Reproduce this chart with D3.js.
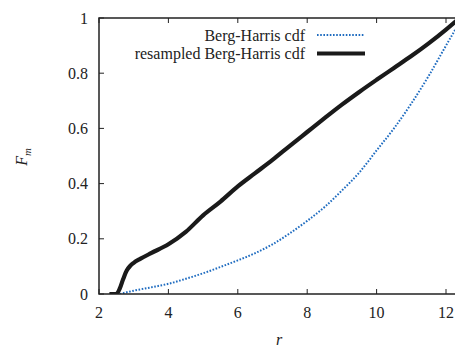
<!DOCTYPE html>
<html>
<head>
<meta charset="utf-8">
<script src="https://cdn.jsdelivr.net/npm/d3@7"></script>
<style>
  body { margin: 0; background: #fff; }
  text { font-family: "Liberation Serif", "DejaVu Serif", serif; fill: #222; }
</style>
</head>
<body>
<script>
// values
var rBH = [2.6, 3, 3.5, 4, 4.5, 5, 5.5, 6, 6.5, 7, 7.5, 8, 8.5, 9, 9.5, 10, 10.5, 11, 11.5, 12, 12.3];
var fBH = [0, 0.012, 0.024, 0.037, 0.055, 0.075, 0.098, 0.122, 0.148, 0.18, 0.22, 0.265, 0.315, 0.375, 0.44, 0.52, 0.6, 0.69, 0.79, 0.9, 0.965];

var rRes = [2.3, 2.5, 2.6, 2.7, 2.8, 2.9, 3, 3.2, 3.5, 4, 4.5, 5, 5.5, 6, 6.5, 7, 7.5, 8, 8.5, 9, 9.5, 10, 10.5, 11, 11.5, 12, 12.3];
var fRes = [0, 0, 0.02, 0.055, 0.085, 0.102, 0.113, 0.128, 0.148, 0.18, 0.225, 0.285, 0.335, 0.39, 0.438, 0.486, 0.537, 0.587, 0.637, 0.686, 0.732, 0.776, 0.819, 0.862, 0.908, 0.958, 0.99];

var xTicks = [2, 4, 6, 8, 10, 12];
var yTicks = [0, 0.2, 0.4, 0.6, 0.8, 1];
var yTickLabels = ['0', '0.2', '0.4', '0.6', '0.8', '1'];

var width = 455, height = 348;
// plot box; the right side runs past the picture edge
var pLeft = 99, pTop = 18, pBottom = 294, pRight = 455;

var x = d3.scaleLinear().domain([2, 12]).range([pLeft, 446]);
var y = d3.scaleLinear().domain([0, 1]).range([pBottom, pTop]);

var svg = d3.select('body').append('svg')
  .attr('width', width)
  .attr('height', height);

svg.append('clipPath').attr('id', 'clip')
  .append('rect').attr('x', pLeft).attr('y', pTop - 3)
  .attr('width', pRight - pLeft).attr('height', pBottom - pTop + 3);

var line = d3.line()
  .x(function(d) { return x(d[0]); })
  .y(function(d) { return y(d[1]); })
  .curve(d3.curveMonotoneX);

var g = svg.append('g').attr('clip-path', 'url(#clip)');

g.append('path')
  .datum(d3.zip(rBH, fBH))
  .attr('d', line)
  .attr('fill', 'none')
  .attr('stroke', '#1f6cc0')
  .attr('stroke-width', 2)
  .attr('stroke-dasharray', '1.6,1.6');

g.append('path')
  .datum(d3.zip(rRes, fRes))
  .attr('d', line)
  .attr('fill', 'none')
  .attr('stroke', '#1a1a1a')
  .attr('stroke-width', 4.2)
  .attr('stroke-linejoin', 'round');

svg.append('path')
  .attr('d', 'M' + pRight + ',' + pTop + 'H' + pLeft + 'V' + pBottom + 'H' + pRight)
  .attr('fill', 'none')
  .attr('stroke', '#222')
  .attr('stroke-width', 1.5);

// ticks, inward
svg.selectAll('.xt').data(xTicks).enter().append('path')
  .attr('d', function(d) { return 'M' + x(d) + ',' + pBottom + 'v-5M' + x(d) + ',' + pTop + 'v5'; })
  .attr('stroke', '#222').attr('stroke-width', 1);

svg.selectAll('.yt').data(yTicks).enter().append('path')
  .attr('d', function(d) { return 'M' + pLeft + ',' + y(d) + 'h5'; })
  .attr('stroke', '#222').attr('stroke-width', 1);

svg.selectAll('.xl').data(xTicks).enter().append('text')
  .attr('x', function(d) { return x(d); })
  .attr('y', 318)
  .attr('text-anchor', 'middle')
  .style('font-size', '16px')
  .text(function(d) { return d; });

svg.selectAll('.yl').data(yTicks).enter().append('text')
  .attr('x', 88)
  .attr('y', function(d) { return y(d) + 5.5; })
  .attr('text-anchor', 'end')
  .style('font-size', '16px')
  .text(function(d, i) { return yTickLabels[i]; });

// axis titles
svg.append('text')
  .attr('x', 279).attr('y', 345)
  .attr('text-anchor', 'middle')
  .style('font-size', '16px').style('font-style', 'italic')
  .text('r');

var yl = svg.append('text')
  .attr('transform', 'translate(27,157) rotate(-90)')
  .attr('text-anchor', 'middle')
  .style('font-size', '16px').style('font-style', 'italic');
yl.append('tspan').text('F');
yl.append('tspan').attr('dy', 4).style('font-size', '11px').text('m');

// legend
var legend = [
  { label: 'Berg-Harris cdf', color: '#1f6cc0', w: 2, dash: '1.6,1.6' },
  { label: 'resampled Berg-Harris cdf', color: '#1a1a1a', w: 4.2, dash: null }
];
legend.forEach(function(d, i) {
  var ly = 35 + i * 18.5;
  svg.append('text')
    .attr('x', 305).attr('y', ly + 5.5)
    .attr('text-anchor', 'end')
    .style('font-size', '16px')
    .text(d.label);
  svg.append('line')
    .attr('x1', 317).attr('x2', 365)
    .attr('y1', ly).attr('y2', ly)
    .attr('stroke', d.color)
    .attr('stroke-width', d.w)
    .attr('stroke-dasharray', d.dash);
});
</script>
</body>
</html>
